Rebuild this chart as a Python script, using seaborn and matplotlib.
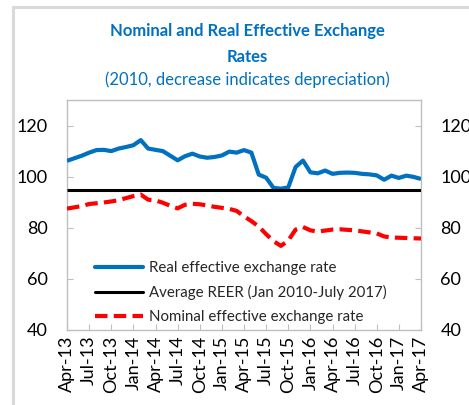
import matplotlib
matplotlib.use("Agg")
import matplotlib.pyplot as plt
import seaborn as sns
import pandas as pd
import numpy as np
from matplotlib.patches import Rectangle
from matplotlib.lines import Line2D

months = pd.date_range("2013-04-01", "2017-04-01", freq="MS")
tick_labels = ["Apr-13", "Jul-13", "Oct-13", "Jan-14", "Apr-14", "Jul-14", "Oct-14",
               "Jan-15", "Apr-15", "Jul-15", "Oct-15", "Jan-16", "Apr-16", "Jul-16",
               "Oct-16", "Jan-17", "Apr-17"]

reer = [106.2, 107.2, 108.2, 109.4, 110.4, 110.5, 110.0, 111.0, 111.6, 112.3,
        114.3, 111.0, 110.5, 110.0, 108.2, 106.4, 108.0, 109.0, 107.9, 107.4,
        107.7, 108.3, 109.8, 109.4, 110.4, 109.4, 100.8, 99.6, 95.6, 95.3,
        95.8, 103.8, 106.3, 101.7, 101.3, 102.4, 101.1, 101.5, 101.6, 101.5,
        101.1, 100.9, 100.5, 98.8, 100.4, 99.5, 100.4, 99.9, 99.1]
neer = [87.5, 88.0, 88.5, 89.3, 89.6, 89.9, 90.3, 90.8, 91.6, 92.4,
        93.0, 91.0, 90.7, 89.8, 88.6, 87.6, 89.0, 89.4, 89.2, 88.7,
        88.2, 87.8, 87.4, 86.6, 84.5, 82.6, 80.5, 77.5, 74.8, 72.9,
        75.0, 79.3, 80.3, 79.0, 78.5, 78.9, 79.3, 79.4, 79.2, 79.0,
        78.6, 78.2, 77.8, 76.6, 76.2, 76.1, 76.0, 75.9, 75.8]
avg_reer = 94.8

labels = ["Real effective exchange rate", "Average REER (Jan 2010-July 2017)",
          "Nominal effective exchange rate"]

sns.set_theme(style="white")
plt.rcParams["font.family"] = ["Lato", "DejaVu Sans"]

idx = np.arange(len(months))
df = pd.DataFrame({
    "t": np.concatenate([idx, idx, idx]),
    "v": np.concatenate([reer, [avg_reer] * len(idx), neer]),
    "s": [labels[0]] * len(idx) + [labels[1]] * len(idx) + [labels[2]] * len(idx),
})

fig = plt.figure(figsize=(4.69, 4.05), dpi=100)
ax = fig.add_axes([67 / 469, 1 - 330 / 405, (421 - 67) / 469, (330 - 100) / 405])

colors = {labels[0]: "#0070C0", labels[1]: "#000000", labels[2]: "#FF0000"}
sns.lineplot(data=df, x="t", y="v", hue="s", style="s", palette=colors,
             dashes={labels[0]: "", labels[1]: "", labels[2]: (3, 1.5)},
             ax=ax, legend=False, zorder=3)
widths = [3.0, 2.2, 3.0]
for line, w in zip(ax.get_lines(), widths):
    line.set_linewidth(w)
    line.set_solid_capstyle("butt")
    line.set_dash_capstyle("butt")

ax.set_xlim(0, len(idx) - 1)
ax.set_ylim(40, 130)
ax.set_xticks(idx[::3])
ax.set_xticklabels(tick_labels, rotation=90)
ax.set_yticks([40, 60, 80, 100, 120])
ax.set_xlabel("")
ax.set_ylabel("")
ax.tick_params(axis="both", direction="in", length=4, width=0.8, color="#bfbfbf",
               labelsize=13, labelcolor="#000000")
ax.tick_params(axis="y", left=True, right=True, labelleft=True, labelright=True, pad=14)
ax.tick_params(axis="x", bottom=True, pad=4)
for sp in ax.spines.values():
    sp.set_color("#bfbfbf")
    sp.set_linewidth(1.0)

handles = [Line2D([], [], color="#0070C0", lw=3.0),
           Line2D([], [], color="#000000", lw=2.2),
           Line2D([], [], color="#FF0000", lw=3.0, dashes=(3, 1.5))]
leg = ax.legend(handles, labels, loc="lower left", bbox_to_anchor=(0.055, -0.015),
                frameon=False, fontsize=10.8, handlelength=3.2, handletextpad=0.35,
                labelspacing=0.68, borderaxespad=0.2)

fig.text(247 / 469, 1 - 31 / 405, "Nominal and Real Effective Exchange",
         ha="center", va="center", color="#0070C0", fontsize=12, fontweight="bold")
fig.text(247 / 469, 1 - 57.5 / 405, "Rates",
         ha="center", va="center", color="#0070C0", fontsize=12, fontweight="bold")
fig.text(247 / 469, 1 - 80 / 405, "(2010, decrease indicates depreciation)",
         ha="center", va="center", color="#0070C0", fontsize=12)

fig.patches.append(Rectangle((13 / 469, -0.1), 1.2, 1 - 7 / 405 + 0.1,
                             transform=fig.transFigure, fill=False,
                             edgecolor="#d9d9d9", linewidth=2.2))

fig.savefig("out.png", dpi=100)
